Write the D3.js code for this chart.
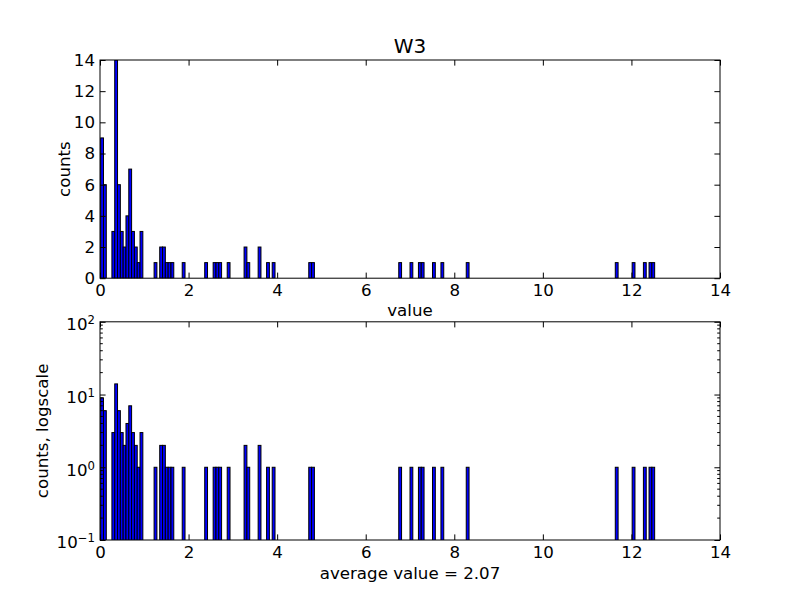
<!DOCTYPE html>
<html><head><meta charset="utf-8">
<script src="https://cdn.jsdelivr.net/npm/d3@7"></script>
<style>body{margin:0;background:#fff} text{font-family:"DejaVu Sans",sans-serif;fill:#000}</style>
</head><body><svg id="c" width="800" height="600"></svg>
<script>
// ---- data ----
const binStart = 0.015;
const binWidth = 0.0635;
const binIndex = [0,1,4,5,6,7,8,9,10,11,12,13,14,19,21,22,23,24,25,29,37,40,41,42,45,51,52,56,59,61,74,75,106,110,113,114,118,121,130,183,189,193,195,196];
const counts   = [9,6,3,14,6,3,2,4,7,3,2,1,3,1,2,2,1,1,1,1,1,1,1,1,1,2,1,2,1,1,1,1,1,1,1,1,1,1,1,1,1,1,1,1];
const xTicks = [0,2,4,6,8,10,12,14];
const yTicksLin = [0,2,4,6,8,10,12,14];
const yLogExp = [-1,0,1,2];
const titleText = "W3";
const xLabelTop = "value";
const yLabelTop = "counts";
const yLabelBottom = "counts, logscale";
const xLabelBottom = "average value = 2.07";

const bins = binIndex.map((b,i)=>({x0: binStart + b*binWidth, x1: binStart + (b+1)*binWidth, n: counts[i]}));

const svg = d3.select("#c");
const L = 100, R = 720, T1 = 60, B1 = 278.2, T2 = 321.8, B2 = 540;
const fs = 16.67;
const x = d3.scaleLinear().domain([0,14]).range([L,R]);
const y1 = d3.scaleLinear().domain([0,14]).range([B1,T1]);
const y2 = d3.scaleLog().domain([0.1,100]).range([B2,T2]);

const defs = svg.append("defs");
defs.append("clipPath").attr("id","c1").append("rect").attr("x",L).attr("y",T1).attr("width",R-L).attr("height",B1-T1);
defs.append("clipPath").attr("id","c2").append("rect").attr("x",L).attr("y",T2).attr("width",R-L).attr("height",B2-T2);

// bars top
svg.append("g").attr("clip-path","url(#c1)").selectAll("rect").data(bins).join("rect")
  .attr("x",d=>x(d.x0)).attr("width",d=>x(d.x1)-x(d.x0))
  .attr("y",d=>y1(d.n)).attr("height",d=>y1(0)-y1(d.n))
  .attr("fill","#0000ff").attr("stroke","#000").attr("stroke-width",1);
// bars bottom (log)
svg.append("g").attr("clip-path","url(#c2)").selectAll("rect").data(bins).join("rect")
  .attr("x",d=>x(d.x0)).attr("width",d=>x(d.x1)-x(d.x0))
  .attr("y",d=>y2(d.n)).attr("height",d=>B2+2-y2(d.n))
  .attr("fill","#0000ff").attr("stroke","#000").attr("stroke-width",1);

const TL = 5.6, TLm = 2.8;
function styleAxis(g){
  g.select(".domain").remove();
  g.selectAll("line").attr("stroke","#000").attr("stroke-width",1);
  g.selectAll("text").style("font-size",fs+"px").style("font-family","DejaVu Sans").attr("fill","#000");
}
function frame(top,bottom,yScale,yTicks,yFmt){
  svg.append("g").attr("transform",`translate(0,${bottom})`)
    .call(d3.axisBottom(x).tickValues(xTicks).tickSize(-TL).tickPadding(6).tickFormat(d3.format("d"))).call(styleAxis);
  svg.append("g").attr("transform",`translate(0,${top})`)
    .call(d3.axisTop(x).tickValues(xTicks).tickSize(-TL).tickFormat("")).call(styleAxis);
  svg.append("g").attr("transform",`translate(${L},0)`)
    .call(d3.axisLeft(yScale).tickValues(yTicks).tickSize(-TL).tickPadding(5).tickFormat(yFmt)).call(styleAxis);
  svg.append("g").attr("transform",`translate(${R},0)`)
    .call(d3.axisRight(yScale).tickValues(yTicks).tickSize(-TL).tickFormat("")).call(styleAxis);
  svg.append("rect").attr("x",L).attr("y",top).attr("width",R-L).attr("height",bottom-top)
    .attr("fill","none").attr("stroke","#000").attr("stroke-width",1);
}
frame(T1,B1,y1,yTicksLin,d3.format("d"));
const logTicks = yLogExp.map(e=>Math.pow(10,e));
frame(T2,B2,y2,logTicks,()=>"");

// log labels with superscripts
const logLab = svg.append("g");
yLogExp.forEach(e=>{
  const t = logLab.append("text").attr("x",L-5).attr("y",y2(Math.pow(10,e))).attr("dy","0.5em")
    .attr("text-anchor","end").style("font-size",fs+"px");
  t.append("tspan").text("10");
  t.append("tspan").attr("dy","-0.5em").style("font-size","11.7px").text(e<0?"\u2212"+Math.abs(e):String(e));
});
// minor log ticks
const minor = [];
for (let e=-1;e<2;e++) for (let k=2;k<10;k++) minor.push(k*Math.pow(10,e));
svg.append("g").selectAll("line").data(minor).join("line")
  .attr("x1",L).attr("x2",L+TLm).attr("y1",d=>y2(d)).attr("y2",d=>y2(d)).attr("stroke","#000");
svg.append("g").selectAll("line").data(minor).join("line")
  .attr("x1",R).attr("x2",R-TLm).attr("y1",d=>y2(d)).attr("y2",d=>y2(d)).attr("stroke","#000");

// labels
svg.append("text").attr("x",(L+R)/2).attr("y",53).attr("text-anchor","middle").style("font-size","20px").text(titleText);
svg.append("text").attr("x",(L+R)/2).attr("y",316).attr("text-anchor","middle").style("font-size",fs+"px").text(xLabelTop);
svg.append("text").attr("x",(L+R)/2).attr("y",579).attr("text-anchor","middle").style("font-size",fs+"px").text(xLabelBottom);
svg.append("text").attr("transform",`translate(70,${(T1+B1)/2}) rotate(-90)`).attr("text-anchor","middle").style("font-size",fs+"px").text(yLabelTop);
svg.append("text").attr("transform",`translate(48,${(T2+B2)/2}) rotate(-90)`).attr("text-anchor","middle").style("font-size",fs+"px").text(yLabelBottom);
</script></body></html>
